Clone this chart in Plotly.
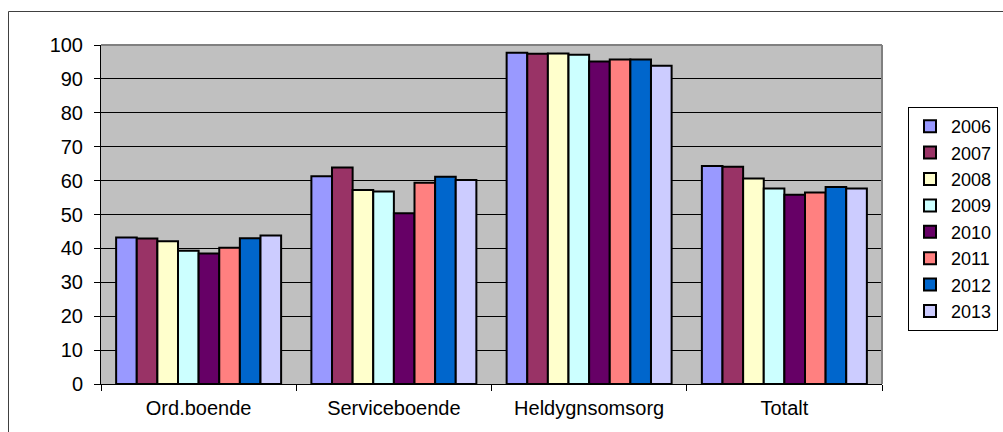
import plotly.graph_objects as go

categories = ["Ord.boende", "Serviceboende", "Heldygnsomsorg", "Totalt"]
years = ["2006", "2007", "2008", "2009", "2010", "2011", "2012", "2013"]

v2006 = [43.2, 61.3, 97.7, 64.3]
v2007 = [42.9, 63.9, 97.4, 64.1]
v2008 = [42.1, 57.2, 97.5, 60.6]
v2009 = [39.3, 56.8, 97.1, 57.7]
v2010 = [38.5, 50.4, 95.1, 55.8]
v2011 = [40.2, 59.4, 95.7, 56.5]
v2012 = [43.0, 61.1, 95.7, 58.1]
v2013 = [43.8, 60.2, 93.9, 57.7]

series = [v2006, v2007, v2008, v2009, v2010, v2011, v2012, v2013]
colors = ["#9999FF", "#993366", "#FFFFCC", "#CCFFFF",
          "#660066", "#FF8080", "#0066CC", "#CCCCFF"]

FONT = "Liberation Sans, Arial, sans-serif"

fig = go.Figure()
for year, vals, col in zip(years, series, colors):
    fig.add_trace(go.Bar(
        name=year, x=categories, y=vals,
        marker=dict(color=col, line=dict(color="#000000", width=2)),
    ))

W, H = 1003, 432
ml, mt, mr, mb = 101, 45, 121, 48
pw, ph = W - ml - mr, H - mt - mb

def px_x(p):
    return (p - ml) / pw

def px_y(p):
    return (H - mb - p) / ph

fig.update_layout(
    width=W, height=H,
    margin=dict(l=ml, r=mr, t=mt, b=mb, pad=0, autoexpand=False),
    paper_bgcolor="#FFFFFF",
    plot_bgcolor="#C0C0C0",
    barmode="group",
    bargap=0.155,
    bargroupgap=0,
    font=dict(family=FONT, size=20, color="#000000"),
    showlegend=True,
    legend=dict(
        x=px_x(908), y=px_y(107), xanchor="left", yanchor="top",
        bgcolor="#FFFFFF", bordercolor="#000000", borderwidth=1,
        font=dict(family=FONT, size=18, color="#000000"),
        tracegroupgap=0, itemwidth=32,
    ),
    xaxis=dict(
        type="category", tickson="boundaries",
        showgrid=False, showline=True, linecolor="#000000", linewidth=1,
        ticks="outside", ticklen=6, tickcolor="#000000", tickwidth=1,
        ticklabelstandoff=6,
        tickfont=dict(family=FONT, size=20, color="#000000"),
    ),
    yaxis=dict(
        range=[0, 100], tickmode="array",
        tickvals=list(range(0, 101, 10)),
        showgrid=True, gridcolor="#000000", gridwidth=1,
        showline=True, linecolor="#000000", linewidth=1,
        ticks="outside", ticklen=6, tickcolor="#000000", tickwidth=1,
        ticklabelstandoff=7, zeroline=False,
        tickfont=dict(family=FONT, size=20, color="#000000"),
    ),
    shapes=[
        # plot-area border on top and right
        dict(type="line", xref="paper", yref="paper", x0=0, x1=1, y0=1, y1=1,
             line=dict(color="#808080", width=2)),
        dict(type="line", xref="paper", yref="paper", x0=1, x1=1, y0=0, y1=1,
             line=dict(color="#808080", width=2)),
        # chart frame
        dict(type="rect", xref="paper", yref="paper",
             x0=px_x(8.5), x1=px_x(1015), y0=px_y(11.5), y1=px_y(445),
             line=dict(color="#404040", width=1), fillcolor="rgba(0,0,0,0)",
             layer="below"),
    ],
)

fig.write_html("out.html")
